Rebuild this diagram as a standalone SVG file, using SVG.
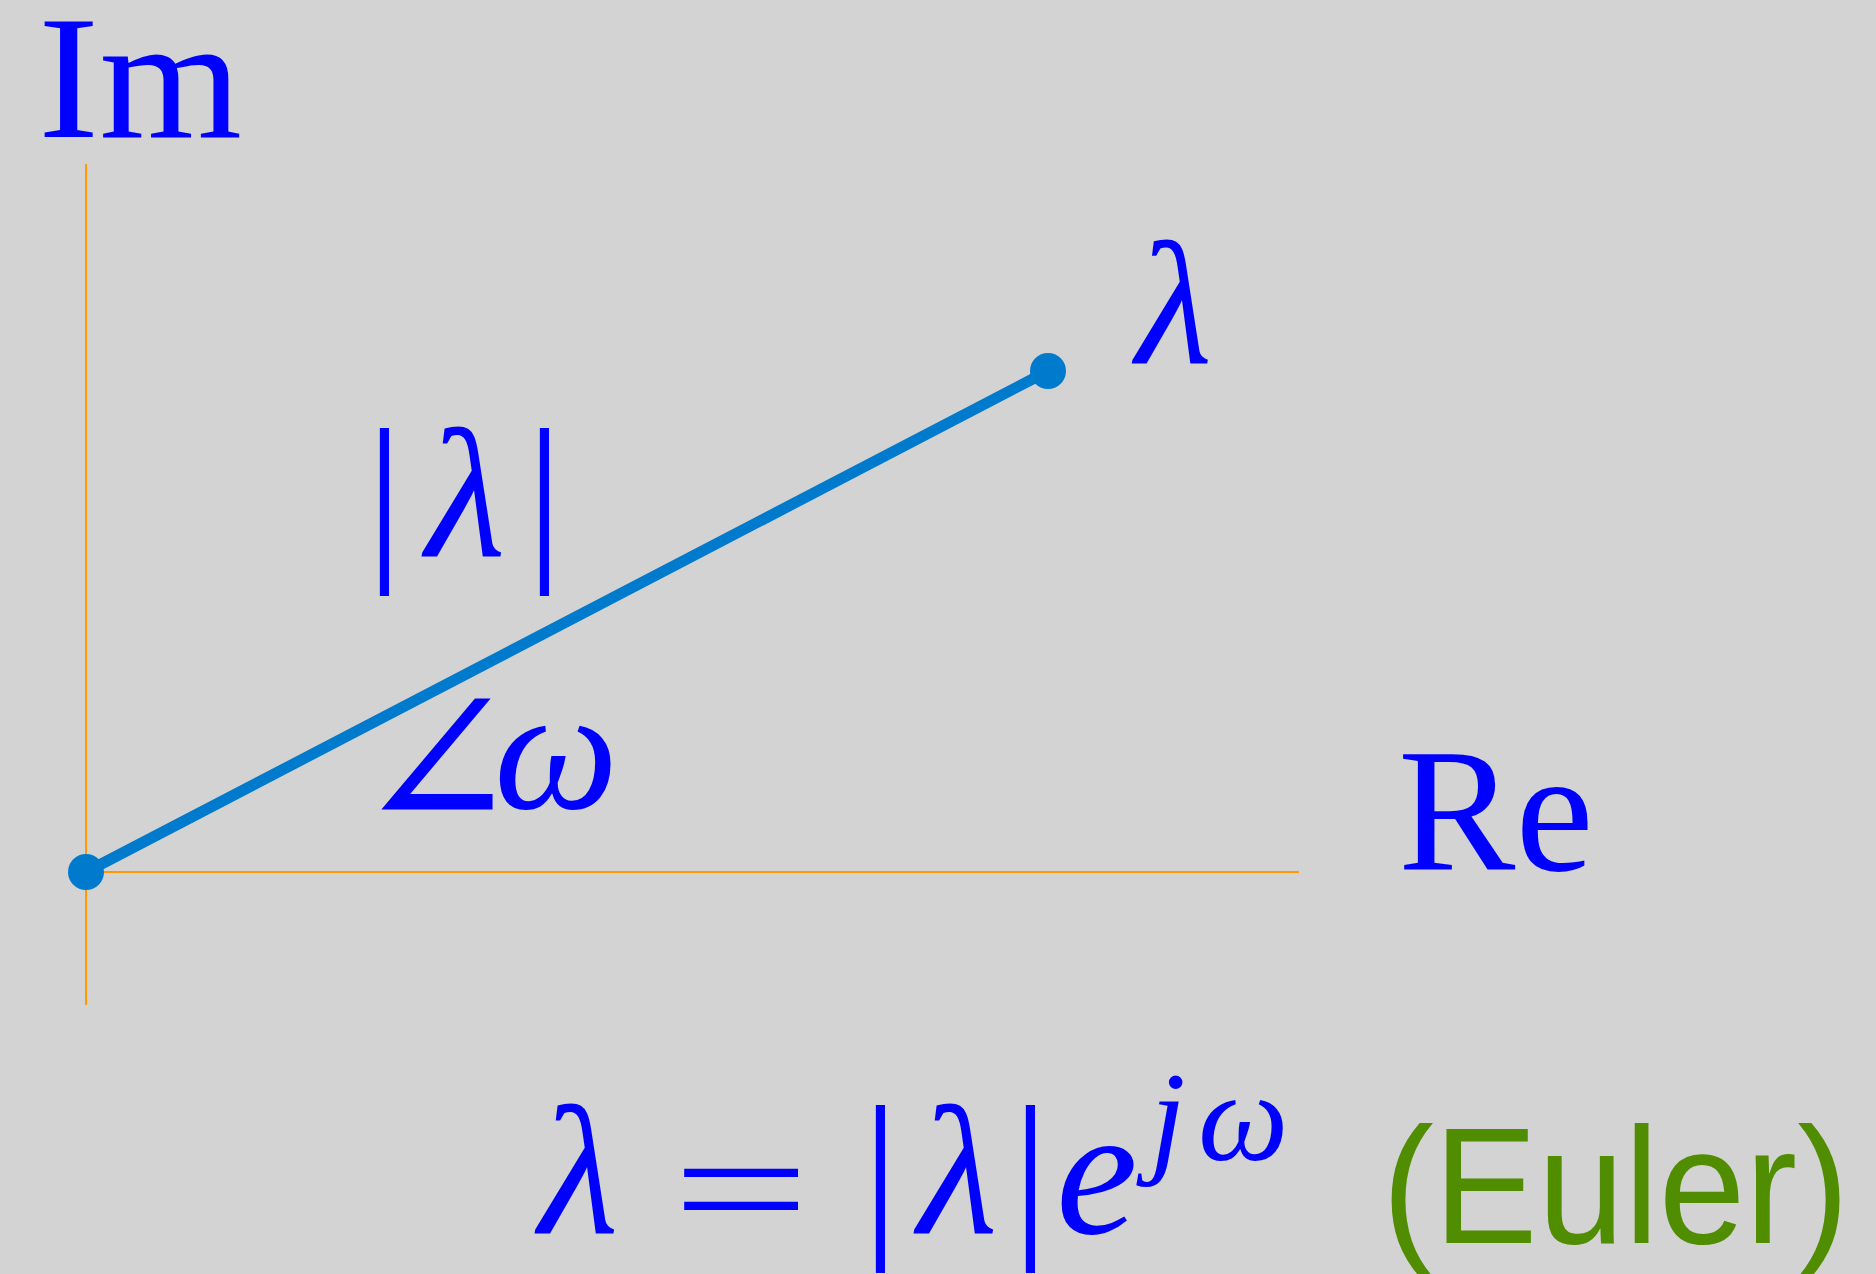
<svg xmlns="http://www.w3.org/2000/svg" width="1876" height="1274" viewBox="0 0 1876 1274">
<style>
.m{font-family:"Liberation Serif","DejaVu Serif",serif;fill:#0000ff}
.i{font-style:italic}
.ax{stroke:#ff9900;stroke-width:2;fill:none}
.vec{stroke:#007acc;stroke-width:11;stroke-linecap:round}
.dot{fill:#007acc}
.g{font-family:"Liberation Sans",Arial,sans-serif;fill:#518d00}
</style>
<rect width="1876" height="1274" fill="#d3d3d3"/>
<g id="axes">
<line id="im-axis" class="ax" x1="86" y1="164" x2="86" y2="1005"/>
<line id="re-axis" class="ax" x1="86" y1="872" x2="1299" y2="872"/>
</g>
<g id="connectors">
<line class="vec" x1="86" y1="872" x2="1048" y2="371"/>
</g>
<g id="origin"><circle class="dot" cx="86" cy="872" r="18"/></g>
<g id="lambda-point"><circle class="dot" cx="1048" cy="371" r="18"/></g>
<g id="label-im"><text class="m" x="38" y="137" font-size="176" textLength="204" lengthAdjust="spacingAndGlyphs">Im</text></g>
<g id="label-re"><text class="m" x="1398" y="870" font-size="176">Re</text></g>
<g id="label-lambda"><text class="m i" x="1136" y="363" font-size="176">λ</text></g>
<g id="label-magnitude"><text class="m" y="556" font-size="184"><tspan x="366">|</tspan><tspan class="i" x="426">λ</tspan><tspan x="526">|</tspan></text></g>
<g id="label-angle"><text class="m" x="354" y="829" font-size="198">∠</text><text class="m i" x="494" y="808" font-size="176">ω</text></g>
<g id="equation"><text class="m" y="1233" font-size="184"><tspan class="i" x="539">λ</tspan><tspan x="862">|</tspan><tspan class="i" x="918">λ</tspan><tspan x="1012">|</tspan><tspan class="i" x="1056">e</tspan></text><text class="m" transform="translate(672,1244) scale(1.33,0.9)" font-size="184">=</text><text class="m i" y="1160" font-size="128"><tspan x="1150">j</tspan><tspan x="1198">ω</tspan></text></g>
<g id="label-euler"><text class="g" x="1382" y="1243" font-size="165" textLength="467" lengthAdjust="spacingAndGlyphs">(Euler)</text></g>
</svg>
